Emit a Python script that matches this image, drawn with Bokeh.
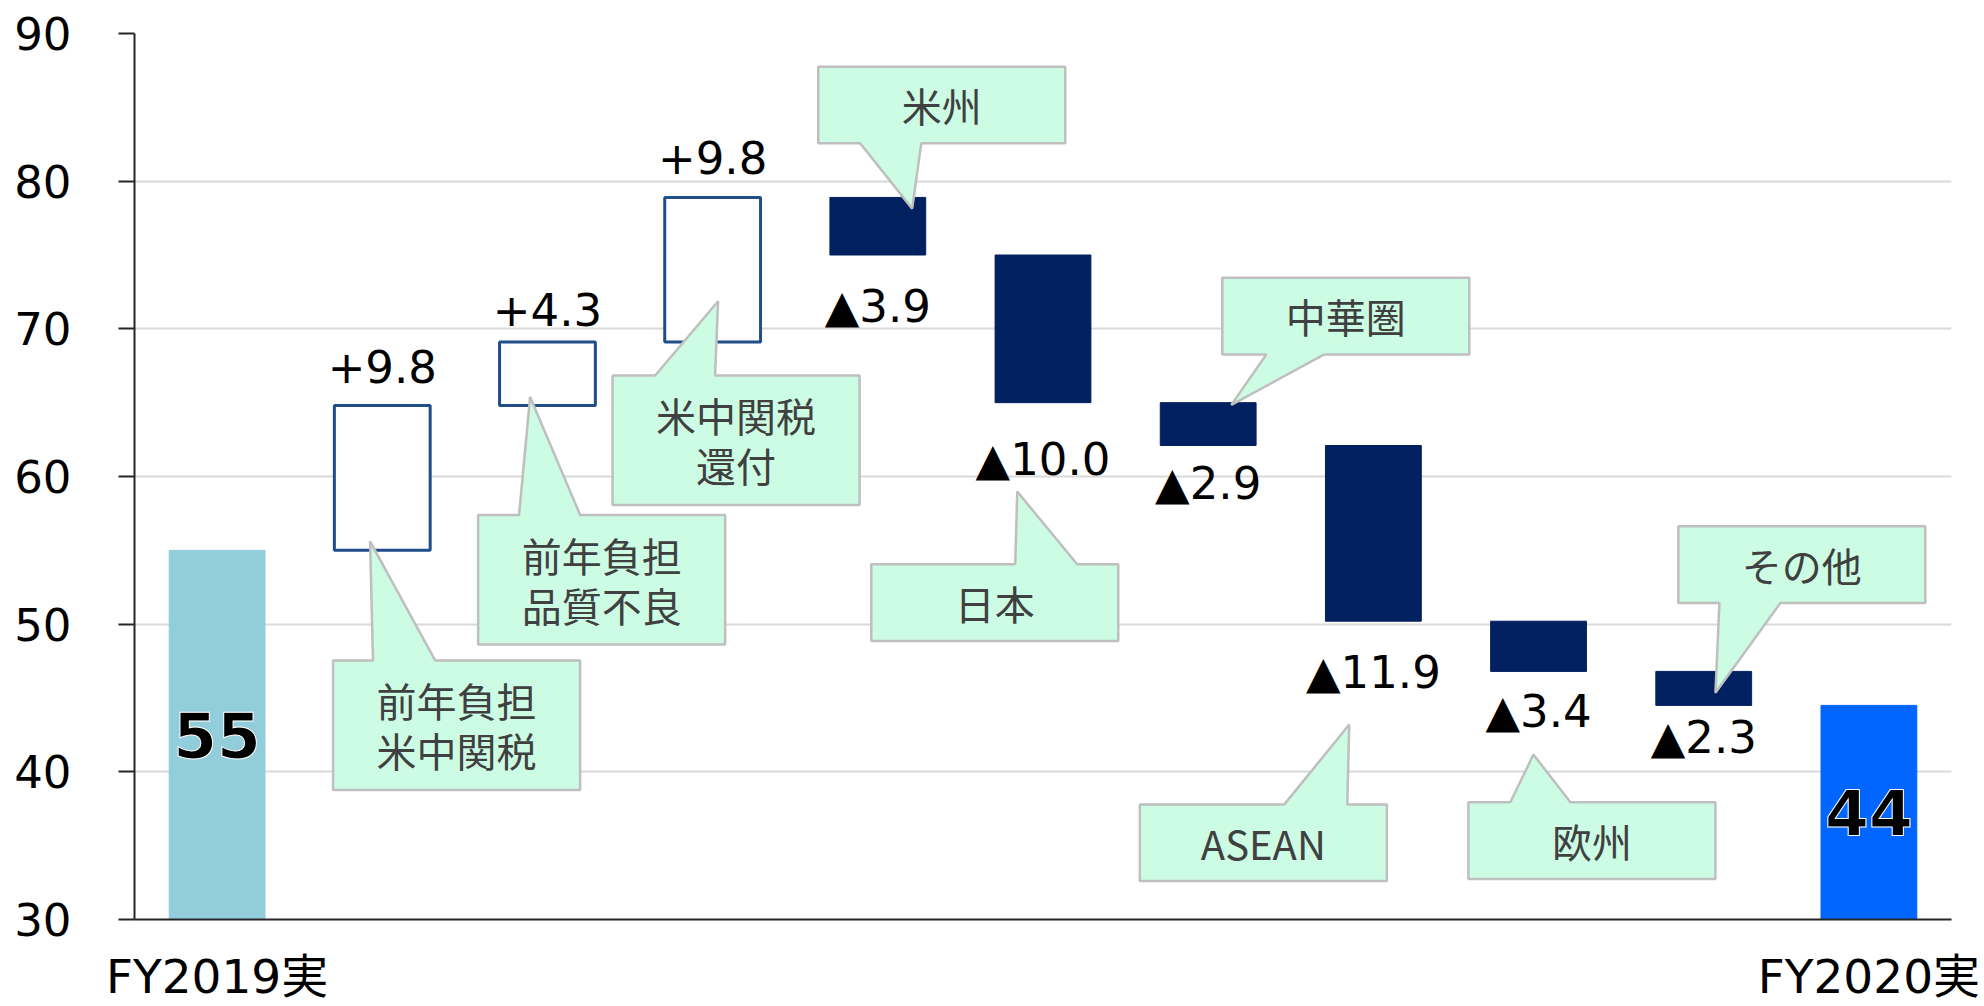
from bokeh.plotting import figure
from bokeh.models import FixedTicker, Range1d
from bokeh.embed import file_html
from bokeh.resources import INLINE
from bokeh.core.properties import value

# ---------------- data ----------------
categories = ["FY2019実", "前年負担\n米中関税", "前年負担\n品質不良", "米中関税\n還付",
              "米州", "日本", "中華圏", "ASEAN", "欧州", "その他", "FY2020実"]
start_value = 55.0
deltas = [9.8, 4.3, 9.8, -3.9, -10.0, -2.9, -11.9, -3.4, -2.3]
end_value = 44.5
total_labels = ["55", "44"]
y_ticks = [30, 40, 50, 60, 70, 80, 90]

# ---------------- layout / style ----------------
W, H = 1984, 1006
BL, BR, BT, BB = 134, 33, 33, 83
Y0, Y1 = 30, 90
X0, X1 = -0.5, 10.5
PPX = (W - BL - BR) / (X1 - X0)
PPY = (H - BT - BB) / (Y1 - Y0)
BAR_W = 0.58
NUM_FONT = "DejaVu Sans"
JP_FONT = "Noto Sans CJK JP"
LABEL_GAP_PX = [25, 19, 26, 32, 37, 18, 32, 20, 12]   # gap between bar and its value label
DIGIT_H_PX = 34
BASELINE_FIX_PX = 14
# callouts: bar index, box centre x (cat units), box centre y (data), side of pointer base,
#           pointer base x0, x1, pointer tip x, tip y
CALLOUTS = [
    (1, 1.450, 43.16, "top", 0.944, 1.320, 0.926, 55.61),
    (2, 2.328, 53.01, "top", 1.828, 2.198, 1.895, 65.39),
    (3, 3.142, 62.46, "top", 2.652, 3.015, 3.033, 71.87),
    (4, 4.387, 85.16, "bottom", 3.893, 4.263, 4.208, 78.14),
    (5, 4.708, 51.46, "top", 4.832, 5.207, 4.844, 58.98),
    (6, 6.833, 70.86, "bottom", 6.352, 6.703, 6.140, 64.85),
    (7, 6.334, 35.20, "top", 6.461, 6.842, 6.854, 43.20),
    (8, 8.323, 35.34, "top", 7.829, 8.193, 7.969, 41.17),
    (9, 9.594, 54.03, "bottom", 9.095, 9.464, 9.071, 45.36),
]
BOX_W_PX = 247
BOX_H1_PX, BOX_H2_PX = 77, 130

p = figure(width=W, height=H, output_backend="svg", toolbar_location=None,
           x_range=Range1d(X0, X1), y_range=Range1d(Y0, Y1),
           min_border_left=BL, min_border_right=BR, min_border_top=BT, min_border_bottom=BB)
p.outline_line_color = None
p.background_fill_color = "white"

# axes
p.yaxis.ticker = FixedTicker(ticks=y_ticks)
p.yaxis.major_tick_out = 16
p.yaxis.major_tick_in = 0
p.yaxis.minor_tick_line_color = None
p.yaxis.major_tick_line_width = 2
p.yaxis.major_tick_line_color = "#262626"
p.yaxis.axis_line_width = 2
p.yaxis.axis_line_color = "#262626"
p.yaxis.major_label_standoff = 47
p.yaxis.major_label_text_font = NUM_FONT
p.yaxis.major_label_text_font_size = "45px"
p.yaxis.major_label_text_color = "#000000"

last = len(categories) - 1
p.xaxis.ticker = FixedTicker(ticks=[0, last])
p.xaxis.major_label_overrides = {0: categories[0], last: categories[last]}
p.xaxis.major_tick_line_color = None
p.xaxis.major_tick_out = 0
p.xaxis.major_tick_in = 0
p.xaxis.minor_tick_line_color = None
p.xaxis.axis_line_width = 2
p.xaxis.axis_line_color = "#262626"
p.xaxis.major_label_standoff = 29
p.xaxis.major_label_text_font = "DejaVu Sans, Noto Sans CJK JP"
p.xaxis.major_label_text_font_size = "47px"
p.xaxis.major_label_text_color = "#000000"

p.xgrid.grid_line_color = None
p.ygrid.ticker = FixedTicker(ticks=y_ticks)
p.ygrid.grid_line_color = "#D9D9D9"
p.ygrid.grid_line_width = 2

# waterfall computation
inc = dict(x=[], bottom=[], top=[])
dec = dict(x=[], bottom=[], top=[])
lbl_x, lbl_y, lbl_t = [], [], []
level = start_value
for i, d in enumerate(deltas, start=1):
    new = level + d
    lo, hi = min(level, new), max(level, new)
    tgt = inc if d > 0 else dec
    tgt["x"].append(i); tgt["bottom"].append(lo); tgt["top"].append(hi)
    gap = LABEL_GAP_PX[i - 1]
    lbl_x.append(i)
    if d > 0:
        lbl_y.append(hi + (gap + BASELINE_FIX_PX) / PPY)
        lbl_t.append("+%.1f" % d)
    else:
        lbl_y.append(lo - (gap + DIGIT_H_PX - BASELINE_FIX_PX) / PPY)
        lbl_t.append("▲%.1f" % abs(d))
    level = new

# total bars
p.vbar(x=[0], bottom=[Y0], top=[start_value], width=BAR_W, fill_color="#92CDDC", line_color="#92CDDC")
p.vbar(x=[last], bottom=[Y0], top=[end_value], width=BAR_W, fill_color="#0066FF", line_color="#0066FF")
# increases (hollow) and decreases (filled)
p.vbar(x="x", bottom="bottom", top="top", source=inc, width=BAR_W,
       fill_color="white", line_color="#1F4E89", line_width=3)
p.vbar(x="x", bottom="bottom", top="top", source=dec, width=BAR_W,
       fill_color="#002060", line_color="#002060", line_width=1)

# value labels
p.text(x=lbl_x, y=lbl_y, text=lbl_t, text_align="center", text_baseline="alphabetic",
       text_font=value(NUM_FONT), text_font_size="45px", text_color="#000000")

# total labels (bold, white halo)
tot_x = [0, last]
tot_y = [(Y0 + start_value) / 2, (Y0 + end_value) / 2]
p.text(x=tot_x, y=tot_y, text=total_labels, text_align="center", text_baseline="middle",
       text_font=value(NUM_FONT), text_font_size="63px", text_font_style="bold",
       text_color="#000000", text_outline_color="white")

# callouts
bw = BOX_W_PX / PPX
xs, ys, tx, ty, tt = [], [], [], [], []
for (bi, cx, cy, side, b0, b1, tipx, tipy) in CALLOUTS:
    txt = categories[bi]
    bh = (BOX_H2_PX if "\n" in txt else BOX_H1_PX) / PPY
    x0, x1 = cx - bw / 2, cx + bw / 2
    y0, y1 = cy - bh / 2, cy + bh / 2
    if side == "top":
        px = [x0, b0, tipx, b1, x1, x1, x0]
        py = [y1, y1, tipy, y1, y1, y0, y0]
    else:
        px = [x0, x1, x1, b1, tipx, b0, x0]
        py = [y1, y1, y0, y0, tipy, y0, y0]
    xs.append(px); ys.append(py)
    tx.append(cx); ty.append(cy); tt.append(txt)

p.patches(xs=xs, ys=ys, fill_color="#CCFCE3", line_color="#BFBFBF", line_width=2.5)
p.text(x=tx, y=ty, text=tt, text_align="center", text_baseline="middle",
       text_font=value(JP_FONT), text_font_size="40px", text_color="#404040",
       text_line_height=0.86)

open("out.html", "w").write(file_html(p, INLINE))
